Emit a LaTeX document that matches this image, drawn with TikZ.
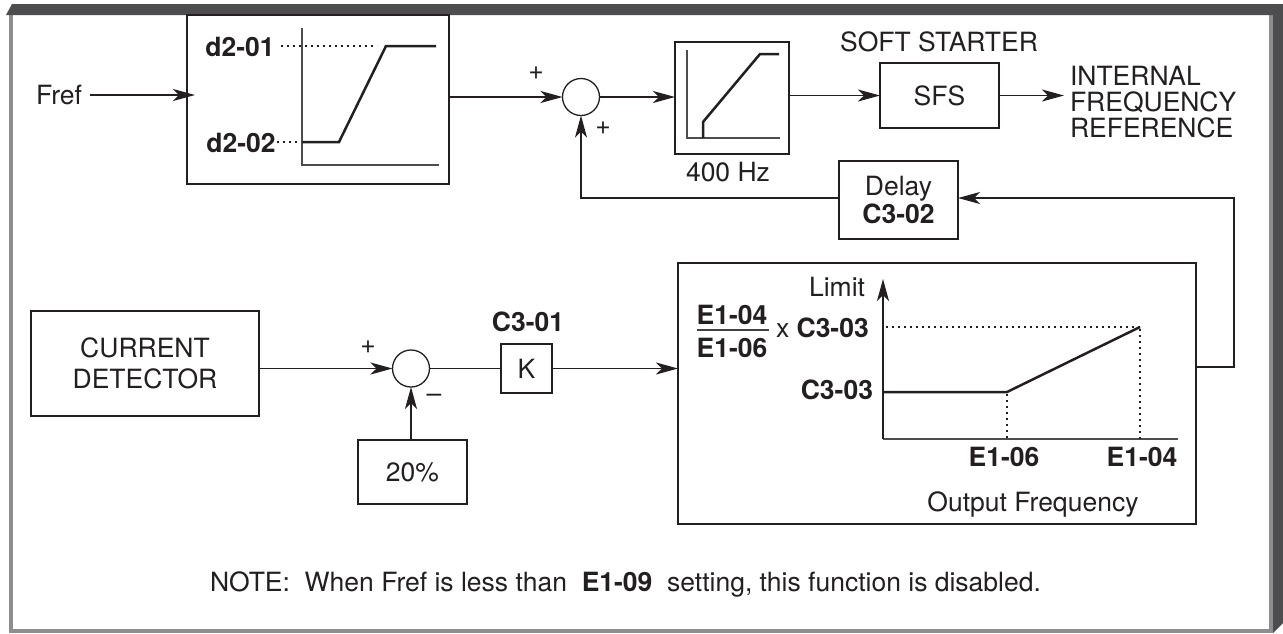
\documentclass[tikz,border=0pt]{standalone}
\usepackage{fontspec}
\setmainfont{TeX Gyre Heros}
\usetikzlibrary{arrows.meta,calc}
\newcommand\fsz{\fontsize{26.5}{30}\selectfont}
\definecolor{ink}{HTML}{231F20}
\definecolor{framedark}{HTML}{4D4D4F}
\definecolor{framelight}{HTML}{8E8E90}
\begin{document}
\begin{tikzpicture}[x=1pt,y=-1pt,
  every node/.style={inner sep=0pt, outer sep=0pt, font=\fsz, text=ink},
  box/.style={draw=ink, line width=1.5pt},
  conn/.style={draw=ink, line width=1.3pt},
  arr/.style={conn, -{Stealth[length=22pt,width=12pt,inset=6pt]}},
  curve/.style={draw=ink, line width=2.5pt, line join=miter},
  axis/.style={draw=ink!80, line width=1.3pt},
  dots/.style={draw=ink, line width=2pt, dash pattern=on 2pt off 4pt},
  bold/.style={font=\fsz\bfseries},
  sumnode/.style={draw=ink, line width=1.3pt, circle, minimum size=37pt},
]
\useasboundingbox (0,0) rectangle (1283,633);
% frame
\fill[framelight] (9,15) rectangle (13,633);
\fill[framelight] (9,629) rectangle (1273,633);
\fill[framelight] (1269,15) rectangle (1273,630);
\fill[framedark] (6,15) -- (12,4) -- (1283,4) -- (1283,623) -- (1273,633) -- (1273,15) -- cycle;

% boxes
\node[box, minimum width=262pt, minimum height=169pt] (b1) at (318,99.5) {};
\node[box, minimum width=114pt, minimum height=112pt] (lim) at (732,98) {};
\node[box, minimum width=119pt, minimum height=65pt] (sfs) at (939.5,95.5) {SFS};
\node[box, minimum width=119pt, minimum height=78pt, align=center, font=\fontsize{26.5}{28}\selectfont] (delay) at (898.5,200) {Delay\\\textbf{C3-02}};
\node[box, minimum width=228pt, minimum height=105pt, align=center, font=\fontsize{26.5}{31}\selectfont] (cd) at (145,363.5) {CURRENT\\DETECTOR};
\node[box, minimum width=51pt, minimum height=49pt] (k) at (526.5,368.5) {K};
\node[box, minimum width=109pt, minimum height=64pt] (pct) at (412.5,472) {20\%};
\node[box, minimum width=518pt, minimum height=261pt] (lbox) at (937,393.5) {};
\node[sumnode] (s1) at (581,97) {};
\node[sumnode] (s2) at (411,368.5) {};

% text labels
\node[anchor=base] (fref) at (59,104.5) {Fref};
\node[anchor=base, bold] (d201) at (240,56.5) {d2-01};
\node[anchor=base, bold] (d202) at (241,152.5) {d2-02};
\node (p1) at (536,73) {+};
\node (p2) at (603,128) {+};
\node[anchor=base] (hz) at (728,181.5) {400 Hz};
\node[anchor=base] (soft) at (939,51.5) {SOFT STARTER};
\node[anchor=base west] (int1) at (1070,85) {INTERNAL};
\node[anchor=base west] (int2) at (1070,111) {FREQUENCY};
\node[anchor=base west] (int3) at (1070,137) {REFERENCE};
\node (p3) at (368,347) {+};
\node (m1) at (434,398) {--};
\node[anchor=base, bold] (c301) at (528,331.5) {C3-01};
\node[anchor=base east] (limit) at (865,296.5) {Limit};
\node[anchor=base, bold] (fn) at (732,324.5) {E1-04};
\node[anchor=base, bold] (fd) at (732,357.5) {E1-06};
\node[anchor=base west] (xc) at (776,337.5) {x \textbf{C3-03}};
\node[anchor=base east, bold] (c303) at (873,399.5) {C3-03};
\node[anchor=base, bold] (e106) at (1004,466.5) {E1-06};
\node[anchor=base, bold] (e104) at (1142,466.5) {E1-04};
\node[anchor=base] (ofreq) at (1033,511.5) {Output Frequency};
\node[anchor=base] (note) at (625.5,591.5) {NOTE:\ \ When Fref is less than\ \ \textbf{E1-09}\ \ setting, this function is disabled.};

% graph in first box
\draw[axis] (302,28) -- (302,165) -- (439,165);
\draw[dots] (281,46) -- (377,46);
\draw[dots] (277,142) -- (300,142);
\draw[curve] (302,142) -- (339,142) -- (386,46) -- (436,46);

% limiter graph
\draw[axis] (687,50) -- (687,138) -- (780,138);
\draw[curve] (703,138) -- (703,122) -- (760,54) -- (779,54);

% limit graph
\draw[axis] (883,439) -- (1178,439);
\draw[axis, draw=ink, -{Stealth[length=22pt,width=12pt,inset=6pt]}] (883,439) -- (883,279);
\draw[dots] (886,327) -- (1140,327);
\draw[dots] (1007,394) -- (1007,439);
\draw[dots] (1140,329) -- (1140,439);
\draw[curve] (883,392) -- (1007,392) -- (1140,327);
\draw[draw=ink!85, line width=1.5pt] (697,330) -- (769,330);

% connectors
\coordinate (outtip) at (1064,95.5);
\coordinate (fbB) at (1234,367);
\coordinate (fbT) at (1234,198);
\draw[arr] ([xshift=8pt]fref.east) -- ([xshift=8pt]fref.east -| b1.west);
\draw[arr] (b1.east |- s1) -- (s1.west);
\draw[arr] (s1.east) -- (s1.east -| lim.west);
\draw[arr] (lim.east |- sfs) -- (sfs.west);
\draw[arr] (sfs.east) -- (outtip);
\draw[arr] (lbox.east |- fbB) -- (fbB) -- (fbT) -- (fbT -| delay.east);
\draw[arr] (delay.west |- fbT) -| (s1.south);
\draw[arr] (cd.east |- s2) -- (s2.west);
\draw[conn] (s2.east) -- (s2.east -| k.west);
\draw[arr] (k.east) -- (k.east -| lbox.west);
\draw[arr] (pct.north -| s2) -- (s2.south);
\end{tikzpicture}
\end{document}
